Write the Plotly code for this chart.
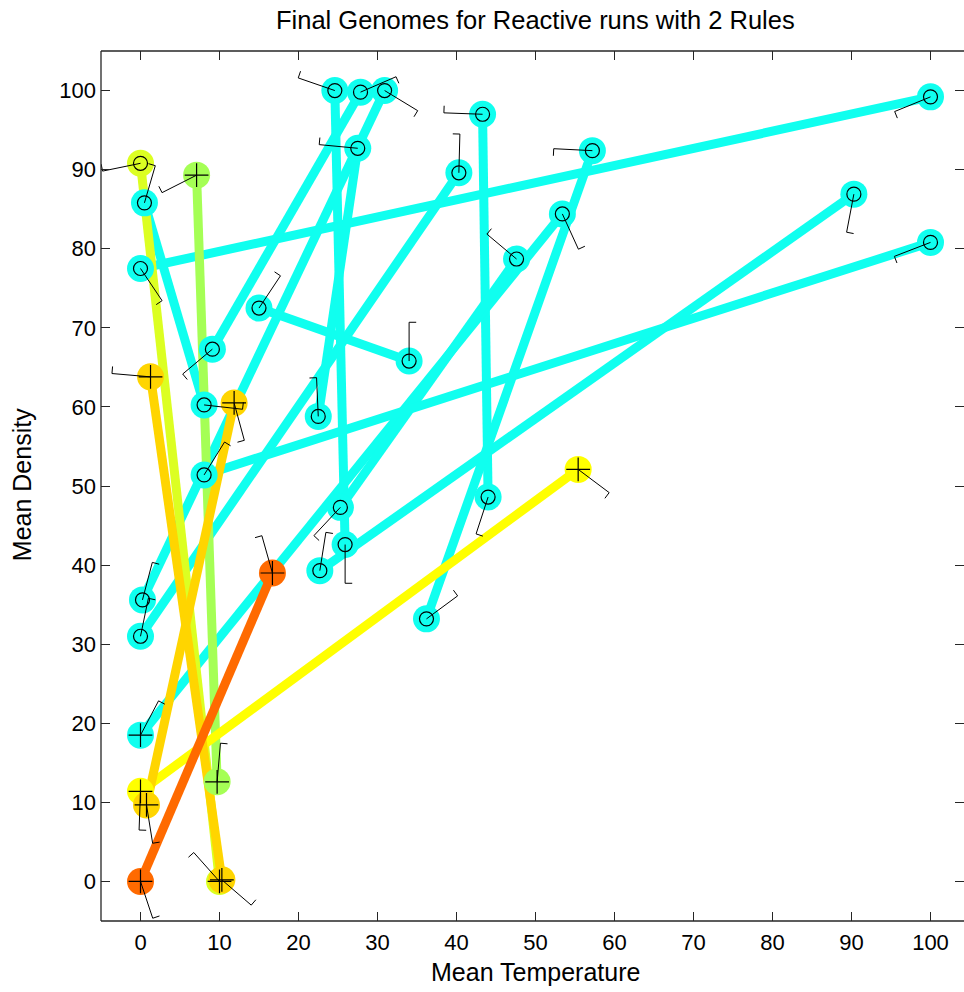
import math
import plotly.graph_objects as go

# ---------------- data ----------------
CYAN = "#10FFEF"
LGREEN = "#A5FF55"
YGREEN = "#DCFF22"
YELLOW = "#FFFF00"
GOLD = "#FFD500"
ORANGE = "#FF6A00"

genome_colors = [CYAN] * 14 + [LGREEN, YGREEN, YELLOW, GOLD, GOLD, ORANGE]

# rule 1 of each genome
r1_x = [0.0, 0.5, 27.85, 30.9, 27.5, 40.3, 43.3, 90.3, 57.2, 15.0, 24.6, 53.4, 47.6, 8.05,
        7.1, 0.0, 55.4, 1.27, 11.85, 16.7]
r1_y = [77.5, 85.8, 99.8, 100.0, 92.7, 89.6, 97.0, 86.9, 92.4, 72.5, 100.0, 84.4, 78.7, 51.4,
        89.3, 90.8, 52.1, 63.8, 60.5, 39.0]
# rule 2 of each genome
r2_x = [100.0, 8.05, 9.1, 0.25, 22.5, 0.0, 44.0, 22.7, 36.2, 34.0, 25.9, 0.0, 25.3, 100.0,
        9.7, 10.0, 0.0, 10.3, 0.76, 0.0]
r2_y = [99.2, 60.25, 67.3, 35.6, 58.8, 31.0, 48.6, 39.3, 33.2, 65.8, 42.6, 18.5, 47.3, 80.8,
        12.6, 0.0, 11.4, 0.2, 9.67, 0.0]

r1_mark = ["o"] * 14 + ["+", "o", "+", "+", "+", "+"]
r2_mark = ["o"] * 11 + ["+", "o", "o"] + ["+", "+", "+", "+", "+", "+"]

# heading of each rule (degrees) and turn side of its hook
r1_angle = [-56.1, 73.7, 23.4, -31.3, 174.6, 88.5, 177.9, -100.8, 177.1, 56.3, 161.0, -65.5, 140.0, 58.1,
            -153.2, -168.4, -36.8, 175.1, -74.7, 105.8]
r1_side = [1, -1, 1, 1, 1, -1, 1, -1, -1, -1, 1, -1, 1, 1,
           1, 1, 1, 1, 1, -1]
r2_angle = [-157.8, -6.4, -140.1, 75.3, 92.5, 78.3, -108.1, 81.0, 36.4, 90.0, -90.0, 62.2, -133.1, -158.9,
            85.1, 131.7, -92.1, -40.7, -80.9, -71.6]
r2_side = [-1, -1, -1, 1, -1, 1, -1, 1, -1, 1, -1, 1, -1, -1,
           1, -1, -1, -1, -1, -1]

x_ticks = [0, 10, 20, 30, 40, 50, 60, 70, 80, 90, 100]
y_ticks = [0, 10, 20, 30, 40, 50, 60, 70, 80, 90, 100]

TITLE = "Final Genomes for Reactive runs with 2 Rules"
XLABEL = "Mean Temperature"
YLABEL = "Mean Density"

ARM = 4.9    # length of heading indicator (data units)
HOOK = 0.9   # length of hook

FONT = "Liberation Sans, Arial, Helvetica, sans-serif"
AXC = "#262626"

fig = go.Figure()

n = len(genome_colors)

# thick genome lines
for i in range(n):
    fig.add_trace(go.Scatter(
        x=[r1_x[i], r2_x[i]], y=[r1_y[i], r2_y[i]], mode="lines",
        line=dict(color=genome_colors[i], width=9), showlegend=False, hoverinfo="skip"))

# big coloured markers
for i in range(n):
    fig.add_trace(go.Scatter(
        x=[r1_x[i], r2_x[i]], y=[r1_y[i], r2_y[i]], mode="markers",
        marker=dict(color=genome_colors[i], size=27, line=dict(width=0)),
        showlegend=False, hoverinfo="skip"))

# heading indicators with hooks
ix, iy = [], []
for xs, ys, angs, sides in ((r1_x, r1_y, r1_angle, r1_side), (r2_x, r2_y, r2_angle, r2_side)):
    for x0, y0, a, s in zip(xs, ys, angs, sides):
        t = math.radians(a)
        ex, ey = x0 + ARM * math.cos(t), y0 + ARM * math.sin(t)
        hx, hy = ex + s * HOOK * math.sin(t), ey - s * HOOK * math.cos(t)
        ix += [x0, ex, hx, None]
        iy += [y0, ey, hy, None]
fig.add_trace(go.Scatter(x=ix, y=iy, mode="lines", line=dict(color="black", width=1),
                         showlegend=False, hoverinfo="skip"))

# black rule markers
ox, oy, px_, py_ = [], [], [], []
for xs, ys, ms in ((r1_x, r1_y, r1_mark), (r2_x, r2_y, r2_mark)):
    for x0, y0, m in zip(xs, ys, ms):
        if m == "o":
            ox.append(x0); oy.append(y0)
        else:
            px_.append(x0); py_.append(y0)
fig.add_trace(go.Scatter(x=ox, y=oy, mode="markers",
                         marker=dict(symbol="circle-open", size=14, color="black", line=dict(width=1.2)),
                         showlegend=False, hoverinfo="skip"))
fig.add_trace(go.Scatter(x=px_, y=py_, mode="markers",
                         marker=dict(symbol="cross-thin-open", size=17, color="black", line=dict(width=1.2)),
                         showlegend=False, hoverinfo="skip"))

axis_common = dict(ticks="inside", ticklen=9, tickwidth=1, tickcolor=AXC,
                   showgrid=False, zeroline=False, showline=False, mirror="ticks",
                   tickfont=dict(family=FONT, size=22, color="black"))

fig.update_xaxes(range=[-5, 104.24], tickvals=x_ticks, ticktext=[str(v) for v in x_ticks],
                 ticklabelstandoff=6, **axis_common)
fig.update_yaxes(range=[-5, 105], tickvals=y_ticks, ticktext=[str(v) for v in y_ticks],
                 ticklabelstandoff=4, **axis_common)

# box (right edge falls outside the picture)
for sh in (dict(x0=0, x1=0, y0=0, y1=1), dict(x0=0, x1=1, y0=0, y1=0), dict(x0=0, x1=1, y0=1, y1=1)):
    fig.add_shape(type="line", xref="paper", yref="paper", line=dict(color=AXC, width=1.3), **sh)

fig.add_annotation(text=TITLE, xref="paper", yref="paper", x=0.5035, y=1.0356,
                   xanchor="center", yanchor="middle", showarrow=False,
                   font=dict(family=FONT, size=25.5, color="black"))
fig.add_annotation(text=XLABEL, xref="paper", yref="paper", x=0.5035, y=-0.0586,
                   xanchor="center", yanchor="middle", showarrow=False,
                   font=dict(family=FONT, size=25, color="black"))
fig.add_annotation(text=YLABEL, xref="paper", yref="paper", x=-0.0915, y=0.501, textangle=-90,
                   xanchor="center", yanchor="middle", showarrow=False,
                   font=dict(family=FONT, size=25, color="black"))

fig.update_layout(width=964, height=992, margin=dict(l=101, r=0, t=51, b=71),
                  paper_bgcolor="white", plot_bgcolor="white", showlegend=False)

fig.write_html("out.html")
